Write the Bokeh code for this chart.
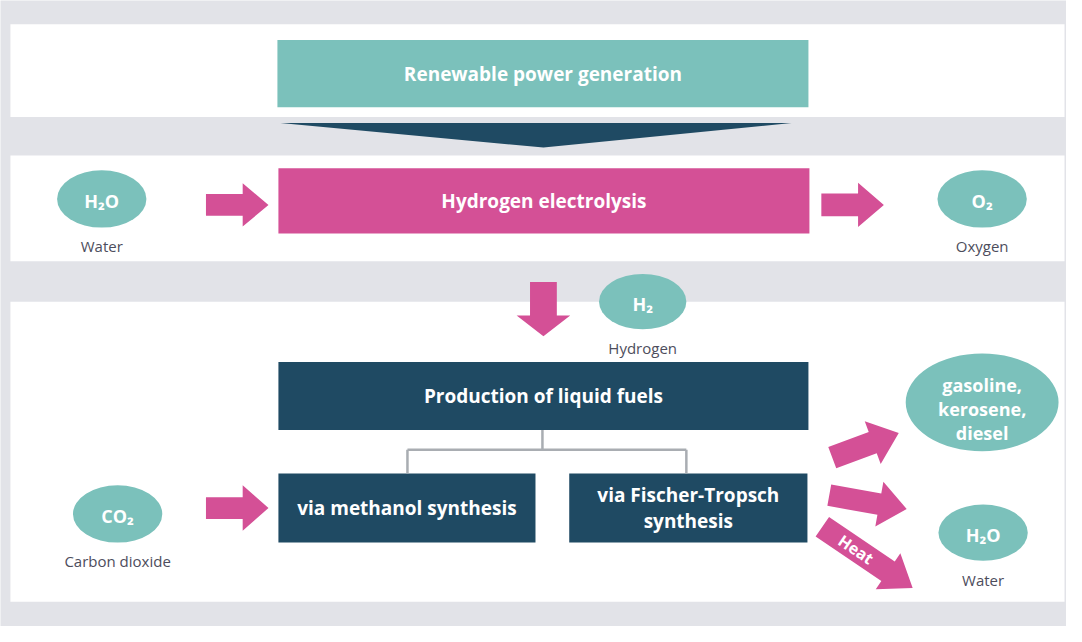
import math
from bokeh.plotting import figure
from bokeh.models import Range1d
from bokeh.core.properties import value
from bokeh.embed import file_html
from bokeh.resources import INLINE

# ---------------- data ----------------
TEAL = "#7bc1bb"
PINK = "#d45096"
NAVY = "#1f4a63"
BG = "#e2e3e8"
LABEL = "#4d4d5c"
FONT = "Open Sans"

# white bands (left, right, top, bottom)
band_left = [18, 18, 18]
band_right = [1080, 1080, 1080]
band_top = [32, 165, 313]
band_bottom = [126, 272, 617]

# process boxes
box_names = ["Renewable power generation", "Hydrogen electrolysis",
             "Production of liquid fuels", "via methanol synthesis",
             "via Fischer-Tropsch\nsynthesis"]
box_left = [287, 288, 288, 288, 581]
box_right = [822, 823, 822, 547, 821]
box_top = [48, 178, 374, 487, 487]
box_bottom = [116, 244, 443, 557, 557]
box_color = [TEAL, PINK, NAVY, NAVY, NAVY]

# substances (ellipses)
sub_names = ["H₂O", "O₂", "H₂", "CO₂", "gasoline,\nkerosene,\ndiesel", "H₂O"]
sub_labels = ["Water", "Oxygen", "Hydrogen", "Carbon dioxide", "", "Water"]
sub_x = [110, 997, 655, 126, 997, 998]
sub_y = [209, 209, 313, 528, 415, 547]
sub_w = [90, 90, 88, 90, 154, 90]
sub_h = [58, 58, 56, 58, 99, 57]
sub_text_dy = [2, 2, 2, 2, 7, 2]

# arrows: tail (x, y), tip (x, y), shaft width, head width, head length
arr_tail_x = [215, 835, 555, 215, 846, 843, 836]
arr_tail_y = [215, 215, 293, 522, 471, 509, 541]
arr_tip_x = [278, 898, 555, 278, 913, 921, 927]
arr_tip_y = [215, 215, 348, 522, 446, 523, 603]
arr_shaft = [22, 23, 27, 22, 23, 22, 24]
arr_head = [44, 45, 54, 46, 46, 46, 44]
arr_hlen = [26, 26, 21, 26, 28, 28, 30]

# connector lines
conn_xs = [[554, 554], [418, 699], [418, 418], [699, 699]]
conn_ys = [[443, 463], [463, 463], [463, 487], [463, 487]]

# wedge under "Renewable power generation"
wedge_x = [290, 805, 555]
wedge_y = [132, 132, 157]

# ---------------- figure ----------------
W, H = 1066, 626
p = figure(width=W, height=H, output_backend="svg", toolbar_location=None,
           x_range=Range1d(8, 1082), y_range=Range1d(642, 8),
           min_border=0, background_fill_color=BG, border_fill_color=BG)
p.axis.visible = False
p.grid.visible = False
p.outline_line_color = None

p.quad(left=band_left, right=band_right, top=band_top, bottom=band_bottom,
       fill_color="white", line_color=None)

p.patch(wedge_x, wedge_y, fill_color=NAVY, line_color=None)

p.quad(left=box_left, right=box_right, top=box_top, bottom=box_bottom,
       fill_color=box_color, line_color=None)

p.multi_line(conn_xs, conn_ys, line_color="#a9adb2", line_width=2.5)


def arrow_poly(tx, ty, hx, hy, sw, hw, hl):
    L = math.hypot(hx - tx, hy - ty)
    ux, uy = (hx - tx) / L, (hy - ty) / L
    nx, ny = -uy, ux
    bx, by = hx - ux * hl, hy - uy * hl
    pts = [
        (tx + nx * sw / 2, ty + ny * sw / 2),
        (bx + nx * sw / 2, by + ny * sw / 2),
        (bx + nx * hw / 2, by + ny * hw / 2),
        (hx, hy),
        (bx - nx * hw / 2, by - ny * hw / 2),
        (bx - nx * sw / 2, by - ny * sw / 2),
        (tx - nx * sw / 2, ty - ny * sw / 2),
    ]
    return [q[0] for q in pts], [q[1] for q in pts]


axs, ays = [], []
for i in range(len(arr_tail_x)):
    xs, ys = arrow_poly(arr_tail_x[i], arr_tail_y[i], arr_tip_x[i], arr_tip_y[i],
                        arr_shaft[i], arr_head[i], arr_hlen[i])
    axs.append(xs)
    ays.append(ys)
p.patches(axs, ays, fill_color=PINK, line_color=None)

p.ellipse(x=sub_x, y=sub_y, width=sub_w, height=sub_h, fill_color=TEAL, line_color=None)

# box texts
bx_c = [(l + r) / 2 for l, r in zip(box_left, box_right)]
by_c = [(t + b) / 2 for t, b in zip(box_top, box_bottom)]
p.text(x=bx_c, y=by_c, text=box_names, text_color="white", text_font=value(FONT),
       text_font_style="bold", text_font_size="19px", text_align="center",
       text_baseline="middle", text_line_height=1.0)

# substance texts
st_y = [y + d for y, d in zip(sub_y, sub_text_dy)]
p.text(x=sub_x, y=st_y, text=sub_names, text_color="white", text_font=value(FONT),
       text_font_style="bold", text_font_size="18px", text_align="center",
       text_baseline="middle", text_line_height=1.0)

# labels under substances
lab_y = [y + h / 2 + 19 for y, h in zip(sub_y, sub_h)]
p.text(x=sub_x, y=lab_y, text=sub_labels, text_color=LABEL, text_font=value(FONT),
       text_font_size="15px", text_align="center", text_baseline="middle")

# Heat label on the tilted arrow
ang = -math.degrees(math.atan2(arr_tip_y[6] - arr_tail_y[6], arr_tip_x[6] - arr_tail_x[6]))
p.text(x=[870], y=[564], text=["Heat"], angle=[ang], angle_units="deg",
       text_color="white", text_font=value(FONT), text_font_style="bold",
       text_font_size="16px", text_align="center", text_baseline="middle")

open("out.html", "w").write(file_html(p, INLINE))
